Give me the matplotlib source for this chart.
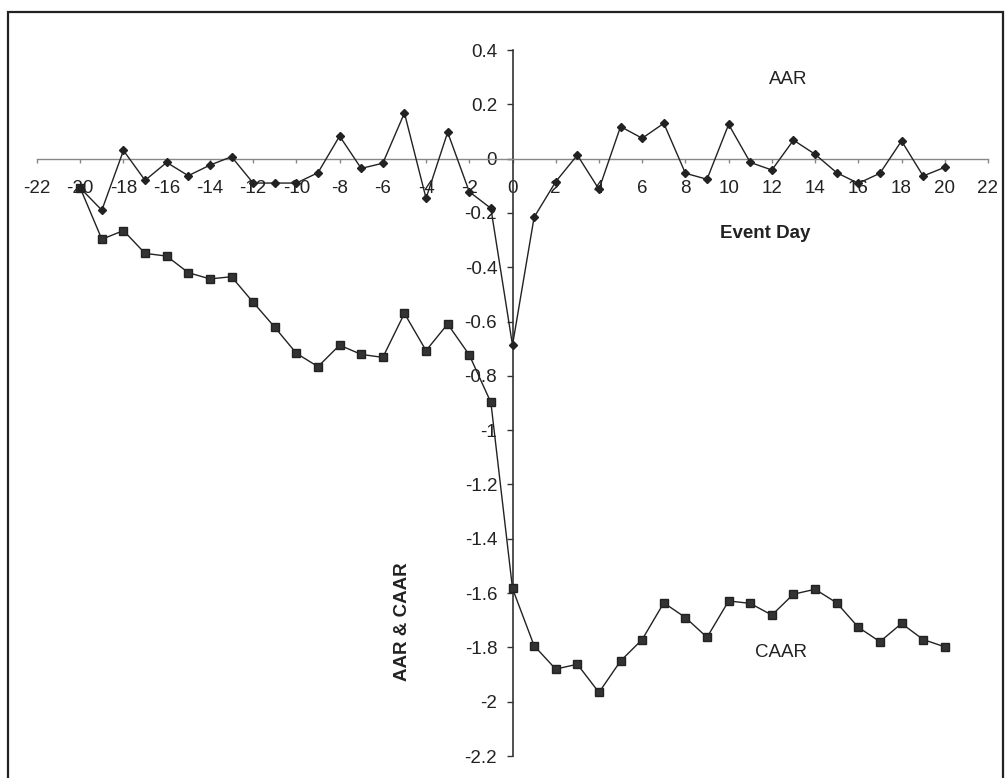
import numpy as np
import matplotlib
matplotlib.use('Agg')
import matplotlib.pyplot as plt
from matplotlib.patches import Rectangle

plt.rcParams['font.family'] = ['Liberation Sans', 'DejaVu Sans']

# event window
days = list(range(-20, 21))

# average abnormal return, %
aar = [-0.108, -0.19, 0.03, -0.08, -0.014, -0.063, -0.024, 0.007, -0.09, -0.09,
       -0.09, -0.052, 0.083, -0.036, -0.017, 0.168, -0.146, 0.097, -0.122, -0.183,
       -0.687, -0.216, -0.085, 0.013, -0.113, 0.118, 0.075, 0.13, -0.054, -0.076,
       0.126, -0.014, -0.042, 0.068, 0.016, -0.052, -0.091, -0.054, 0.065, -0.064,
       -0.032]

# cumulative average abnormal return, %
caar = [-0.108, -0.297, -0.265, -0.349, -0.359, -0.42, -0.443, -0.435, -0.529, -0.621,
        -0.717, -0.766, -0.687, -0.721, -0.732, -0.57, -0.707, -0.609, -0.723, -0.898,
        -1.583, -1.794, -1.88, -1.862, -1.966, -1.85, -1.771, -1.636, -1.69, -1.763,
        -1.629, -1.638, -1.681, -1.604, -1.586, -1.636, -1.726, -1.779, -1.712, -1.771,
        -1.798]

xticks = list(range(-22, 23, 2))
yticks = [0.4, 0.2, 0, -0.2, -0.4, -0.6, -0.8, -1, -1.2, -1.4, -1.6, -1.8, -2, -2.2]
ylabels = ['0.4', '0.2', '0', '-0.2', '-0.4', '-0.6', '-0.8', '-1', '-1.2', '-1.4',
           '-1.6', '-1.8', '-2', '-2.2']

FS = 13.5

fig = plt.figure(figsize=(10.08, 7.78), dpi=100)
ax = fig.add_axes([37/1008, 22/778, 951/1008, 706/778])

ax.plot(days, caar, color='#222222', lw=1.0, marker='s', ms=6, mfc='#333333',
        mec='#222222', zorder=3)
ax.plot(days, aar, color='#222222', lw=1.0, marker='D', ms=4.5, mfc='#222222',
        mec='#222222', zorder=4)

ax.set_xlim(-22, 22)
ax.set_ylim(-2.2, 0.4)

# axes cross at the origin, excel style
ax.spines['left'].set_position(('data', 0))
ax.spines['bottom'].set_position(('data', 0))
ax.spines['top'].set_visible(False)
ax.spines['right'].set_visible(False)
ax.spines['left'].set_color('#333333')
ax.spines['bottom'].set_color('#888888')
ax.spines['left'].set_linewidth(1.2)
ax.spines['bottom'].set_linewidth(1.0)

ax.set_xticks(xticks)
ax.set_xticklabels([str(t) for t in xticks])
ax.set_yticks(yticks)
ax.set_yticklabels(ylabels)
ax.tick_params(axis='x', direction='out', length=3, width=1, color='#888888',
               pad=12.5, labelsize=FS, labelcolor='#222222')
ax.tick_params(axis='y', direction='out', length=4, width=1, color='#333333',
               pad=7, labelsize=FS, labelcolor='#222222')
ax.patch.set_visible(False)

ax.text(12.75, 0.29, 'AAR', fontsize=FS, ha='center', va='center', color='#222222')
ax.text(11.7, -0.275, 'Event Day', fontsize=FS, fontweight='bold', ha='center',
        va='center', color='#222222')
ax.text(12.4, -1.82, 'CAAR', fontsize=FS, ha='center', va='center', color='#222222')
ax.text(-5.07, -1.707, 'AAR & CAAR', fontsize=FS, fontweight='bold', rotation=90,
        ha='center', va='center', color='#222222')

# outer chart frame (bottom edge runs off the page)
fig.patches.append(Rectangle((8/1008, -0.05), (1003-8)/1008, (778-12)/778 + 0.05,
                             transform=fig.transFigure, fill=False,
                             edgecolor='#222222', lw=1.6))

fig.savefig('out.png', dpi=100)
